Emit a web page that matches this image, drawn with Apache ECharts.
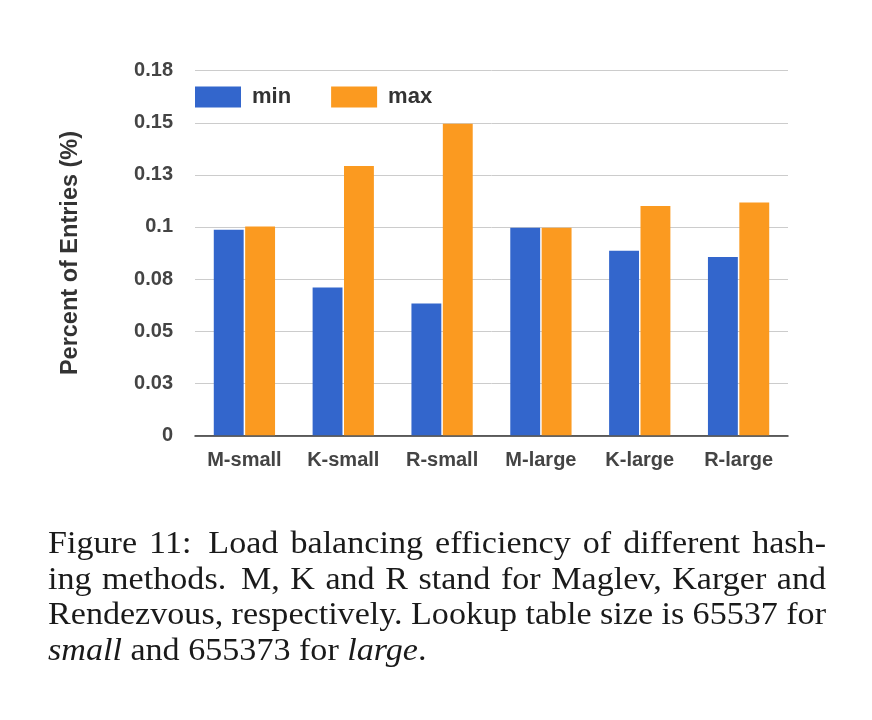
<!DOCTYPE html>
<html><head><meta charset="utf-8">
<script src="https://cdn.jsdelivr.net/npm/echarts@6/dist/echarts.min.js"></script>
<style>html,body{margin:0;padding:0;background:#fff}#c{width:872px;height:720px}</style>
</head><body><div id="c"></div>
<script>
// ---- data ----
const categories = ['M-small', 'K-small', 'R-small', 'M-large', 'K-large', 'R-large'];
const minValues = [0.0987, 0.0709, 0.0633, 0.0996, 0.0886, 0.0856];
const maxValues = [0.1002, 0.1293, 0.1495, 0.0996, 0.1101, 0.1117];
const yTickLabels = ['0', '0.03', '0.05', '0.08', '0.1', '0.13', '0.15', '0.18'];
const seriesNames = ['min', 'max'];
const yAxisTitle = 'Percent of Entries (%)';
const captionLines = [
  'Figure 11:  Load balancing efficiency of different hash-',
  'ing methods.  M, K and R stand for Maglev, Karger and',
  'Rendezvous, respectively. Lookup table size is 65537 for',
  '*small* and 655373 for *large*.'
];

// ---- caption layout (justified text) ----
const capFontSize = 31, capScaleX = 1.1, capLeft = 48, capRight = 826;
const capCenters = [545, 580.5, 616, 651.5];
const mctx = document.createElement('canvas').getContext('2d');
function capFont(it) { return (it ? 'italic ' : '') + capFontSize + 'px "Liberation Serif"'; }
function measure(w, it) { mctx.font = capFont(it); return mctx.measureText(w).width; }
const graphics = [];
captionLines.forEach((line, li) => {
  const parts = line.split(/( +)/);
  const words = [], gaps = [];
  parts.forEach(p => {
    if (/^ +$/.test(p)) gaps.push(p.length > 1 ? 1.4 : 1);
    else if (p.length) {
      const it = p.startsWith('*');
      let t = p.replace(/\*/g, '');
      let tail = '';
      if (it && /[.,]$/.test(t)) { tail = t.slice(-1); t = t.slice(0, -1); }
      words.push({ t, it, tail });
    }
  });
  words.forEach(w => { w.w = measure(w.t, w.it); w.tw = w.tail ? measure(w.tail, false) : 0; });
  const natural = words.reduce((s, w) => s + w.w + w.tw, 0);
  const target = (capRight - capLeft) / capScaleX;
  const last = li === captionLines.length - 1;
  const spaceW = measure(' ', false);
  const totalWeight = gaps.reduce((s, g) => s + g, 0);
  const unit = last ? spaceW : (target - natural) / totalWeight;
  let x = 0;
  const children = [];
  words.forEach((w, i) => {
    children.push({ type: 'text', x: x, y: 0, style: { text: w.t, font: capFont(w.it), fill: '#1a1a1a', verticalAlign: 'middle', align: 'left' } });
    x += w.w;
    if (w.tail) {
      children.push({ type: 'text', x: x, y: 0, style: { text: w.tail, font: capFont(false), fill: '#1a1a1a', verticalAlign: 'middle', align: 'left' } });
      x += w.tw;
    }
    if (i < gaps.length) x += unit * (last ? 1 : gaps[i]);
  });
  graphics.push({ type: 'group', x: capLeft, y: capCenters[li], scaleX: capScaleX, scaleY: 1, children });
});

// ---- chart ----
const chart = echarts.init(document.getElementById('c'), null, { renderer: 'canvas' });
const txt = { fontFamily: 'Liberation Sans', fontWeight: 'bold' };
chart.setOption({
  animation: false,
  backgroundColor: '#ffffff',
  color: ['#3366cc', '#fb9a20'],
  legend: {
    data: seriesNames,
    left: 190, top: 81,
    icon: 'rect',
    itemWidth: 46, itemHeight: 21,
    itemGap: 40,
    textStyle: Object.assign({ fontSize: 22, color: '#333', padding: [0, 0, 0, 6] }, txt)
  },
  grid: { left: 195, right: 84, top: 70.7, bottom: 284.7, containLabel: false },
  xAxis: {
    type: 'category',
    data: categories,
    axisLine: { lineStyle: { color: '#333', width: 1.5 } },
    axisTick: { show: false },
    axisLabel: Object.assign({ fontSize: 20, color: '#444', margin: 15 }, txt)
  },
  yAxis: {
    type: 'value',
    min: 0, max: 0.175, interval: 0.025,
    name: yAxisTitle,
    nameLocation: 'middle',
    nameRotate: 90,
    nameGap: 112,
    nameTextStyle: Object.assign({ fontSize: 23.5, color: '#333' }, txt),
    axisLine: { show: false },
    axisTick: { show: false },
    splitLine: { lineStyle: { color: '#cccccc', width: 1 } },
    axisLabel: Object.assign({
      fontSize: 20, color: '#444', margin: 22,
      formatter: v => yTickLabels[Math.round(v / 0.025)]
    }, txt)
  },
  series: [
    { name: seriesNames[0], type: 'bar', data: minValues, barCategoryGap: '38%', barGap: '5%' },
    { name: seriesNames[1], type: 'bar', data: maxValues, barCategoryGap: '38%', barGap: '5%' }
  ],
  graphic: graphics
});
</script></body></html>
